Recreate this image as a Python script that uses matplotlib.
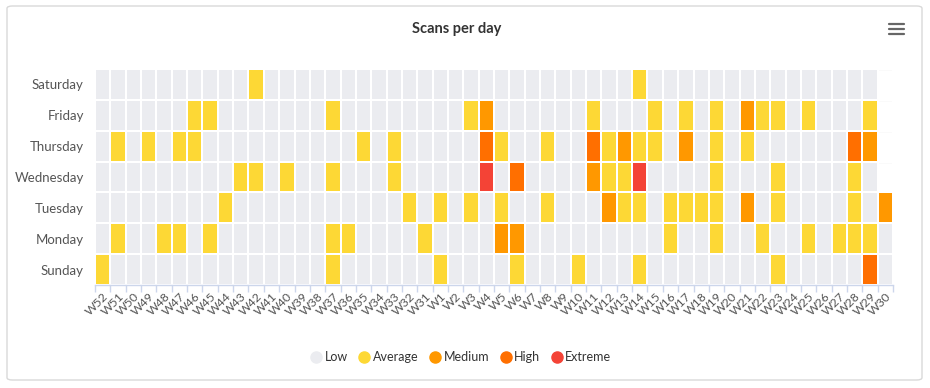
import numpy as np
import matplotlib
matplotlib.use("Agg")
import matplotlib.pyplot as plt
from matplotlib.colors import ListedColormap, BoundaryNorm
from matplotlib.patches import FancyBboxPatch
from matplotlib.lines import Line2D

plt.rcParams['font.family'] = ['Lato', 'DejaVu Sans']

weeks = ["W52", "W51", "W50", "W49", "W48", "W47", "W46", "W45", "W44", "W43",
         "W42", "W41", "W40", "W39", "W38", "W37", "W36", "W35", "W34", "W33",
         "W32", "W31", "W1", "W2", "W3", "W4", "W5", "W6", "W7", "W8",
         "W9", "W10", "W11", "W12", "W13", "W14", "W15", "W16", "W17", "W18",
         "W19", "W20", "W21", "W22", "W23", "W24", "W25", "W26", "W27", "W28",
         "W29", "W30"]
days = ["Saturday", "Friday", "Thursday", "Wednesday", "Tuesday", "Monday", "Sunday"]
levels = ["Low", "Average", "Medium", "High", "Extreme"]
level_colors = ["#ebecf0", "#fdd835", "#ff9800", "#ff6f00", "#f44336"]

# 0 Low, 1 Average, 2 Medium, 3 High, 4 Extreme, None = no data
saturday = [0, 0, 0, 0, 0, 0, 0, 0, 0, 0,
            1, 0, 0, 0, 0, 0, 0, 0, 0, 0,
            0, 0, 0, 0, 0, 0, 0, 0, 0, 0,
            0, 0, 0, 0, 0, 1, 0, 0, 0, 0,
            0, 0, 0, 0, 0, 0, 0, 0, 0, 0,
            0, None]
friday = [0, 0, 0, 0, 0, 0, 1, 1, 0, 0,
          0, 0, 0, 0, 0, 1, 0, 0, 0, 0,
          0, 0, 0, 0, 1, 2, 0, 0, 0, 0,
          0, 0, 1, 0, 0, 0, 1, 0, 1, 0,
          1, 0, 2, 1, 1, 0, 1, 0, 0, 0,
          1, None]
thursday = [0, 1, 0, 1, 0, 1, 1, 0, 0, 0,
            0, 0, 0, 0, 0, 0, 0, 1, 0, 1,
            0, 0, 0, 0, 0, 3, 1, 0, 0, 1,
            0, 0, 3, 1, 2, 1, 1, 0, 2, 0,
            1, 0, 1, 0, 0, 0, 0, 0, 0, 3,
            2, None]
wednesday = [0, 0, 0, 0, 0, 0, 0, 0, 0, 1,
             1, 0, 1, 0, 0, 1, 0, 0, 0, 1,
             0, 0, 0, 0, 0, 4, 0, 3, 0, 0,
             0, 0, 2, 1, 1, 4, 0, 0, 0, 0,
             1, 0, 0, 0, 1, 0, 0, 0, 0, 1,
             0, None]
tuesday = [0, 0, 0, 0, 0, 0, 0, 0, 1, 0,
           0, 0, 0, 0, 0, 0, 0, 0, 0, 0,
           1, 0, 1, 0, 1, 0, 1, 0, 0, 1,
           0, 0, 0, 2, 1, 1, 0, 1, 1, 1,
           1, 0, 2, 0, 1, 0, 0, 0, 0, 1,
           0, 2]
monday = [0, 1, 0, 0, 1, 1, 0, 1, 0, 0,
          0, 0, 0, 0, 0, 1, 1, 0, 0, 0,
          0, 1, 0, 0, 0, 0, 2, 2, 0, 0,
          0, 0, 0, 0, 0, 0, 0, 1, 0, 0,
          1, 0, 0, 1, 0, 0, 1, 0, 1, 1,
          1, 0]
sunday = [1, 0, 0, 0, 0, 0, 0, 0, 0, 0,
          0, 0, 0, 0, 0, 1, 0, 0, 0, 0,
          0, 0, 1, 0, 0, 0, 0, 1, 0, 0,
          0, 1, 0, 0, 0, 1, 0, 0, 0, 0,
          0, 0, 0, 0, 1, 0, 0, 0, 0, 0,
          3, 0]

rows = [saturday, friday, thursday, wednesday, tuesday, monday, sunday]
Z = np.array([[np.nan if v is None else v for v in r] for r in rows], dtype=float)
Z = np.ma.masked_invalid(Z)

W, H = 930, 388
fig = plt.figure(figsize=(W / 100, H / 100), dpi=100)

# card border
card = FancyBboxPatch((7 / W, 8 / H), (922 - 7) / W, (382 - 8) / H,
                      boxstyle="round,pad=0,rounding_size=0.006",
                      transform=fig.transFigure, facecolor="white",
                      edgecolor="#d9d9d9", linewidth=1.0, zorder=-10)
fig.add_artist(card)

ax = fig.add_axes([95 / W, (H - 285) / H, (893 - 95) / W, (285 - 69) / H])
ax.set_zorder(5)
ax.set_facecolor("none")

cmap = ListedColormap(level_colors)
norm = BoundaryNorm(np.arange(-0.5, 5.5, 1), cmap.N)
nx, ny = len(weeks), len(days)
ax.pcolormesh(np.arange(nx + 1), np.arange(ny + 1), Z, cmap=cmap, norm=norm,
              edgecolors="white", linewidth=1.4, zorder=2)

# horizontal gridlines behind cells
for yb in range(ny + 1):
    ax.axhline(yb, color="#e6e6e6", linewidth=1, zorder=1)

ax.set_xlim(0, nx)
ax.set_ylim(ny, 0)
for s in ["top", "right", "left"]:
    ax.spines[s].set_visible(False)
ax.spines["bottom"].set_color("#ccd6eb")
ax.spines["bottom"].set_linewidth(1)

ax.set_xticks(np.arange(nx) + 0.5)
ax.set_xticklabels(weeks, rotation=45, ha="right", va="top",
                   rotation_mode="anchor", fontsize=8.8, color="#555555")
ax.set_xticks(np.arange(nx + 1), minor=True)
ax.tick_params(axis="x", which="major", length=0, pad=4)
ax.tick_params(axis="x", which="minor", length=5, color="#ccd6eb", width=1)

ax.set_yticks(np.arange(ny) + 0.5)
ax.set_yticklabels(days, fontsize=9.5, color="#555555")
ax.tick_params(axis="y", length=0, pad=8)

fig.text(457 / W, 1 - 29 / H, "Scans per day", ha="center", va="center",
         fontsize=10.5, fontweight="bold", color="#333333")

# menu icon
for yy in (24, 29, 34):
    fig.add_artist(Line2D([889 / W, 904 / W], [1 - yy / H, 1 - yy / H],
                          transform=fig.transFigure, color="#666666",
                          linewidth=1.6, solid_capstyle="round"))

handles = [Line2D([], [], marker="o", linestyle="none", markersize=8,
                  markerfacecolor=c, markeredgecolor=c) for c in level_colors]
leg = fig.legend(handles, levels, loc="center", bbox_to_anchor=(460 / W, 1 - 357 / H),
                 ncol=5, frameon=False, fontsize=9.0, handletextpad=0.1,
                 columnspacing=0.7, handlelength=1.2)
for t in leg.get_texts():
    t.set_color("#333333")

fig.savefig("out.png", dpi=100)
